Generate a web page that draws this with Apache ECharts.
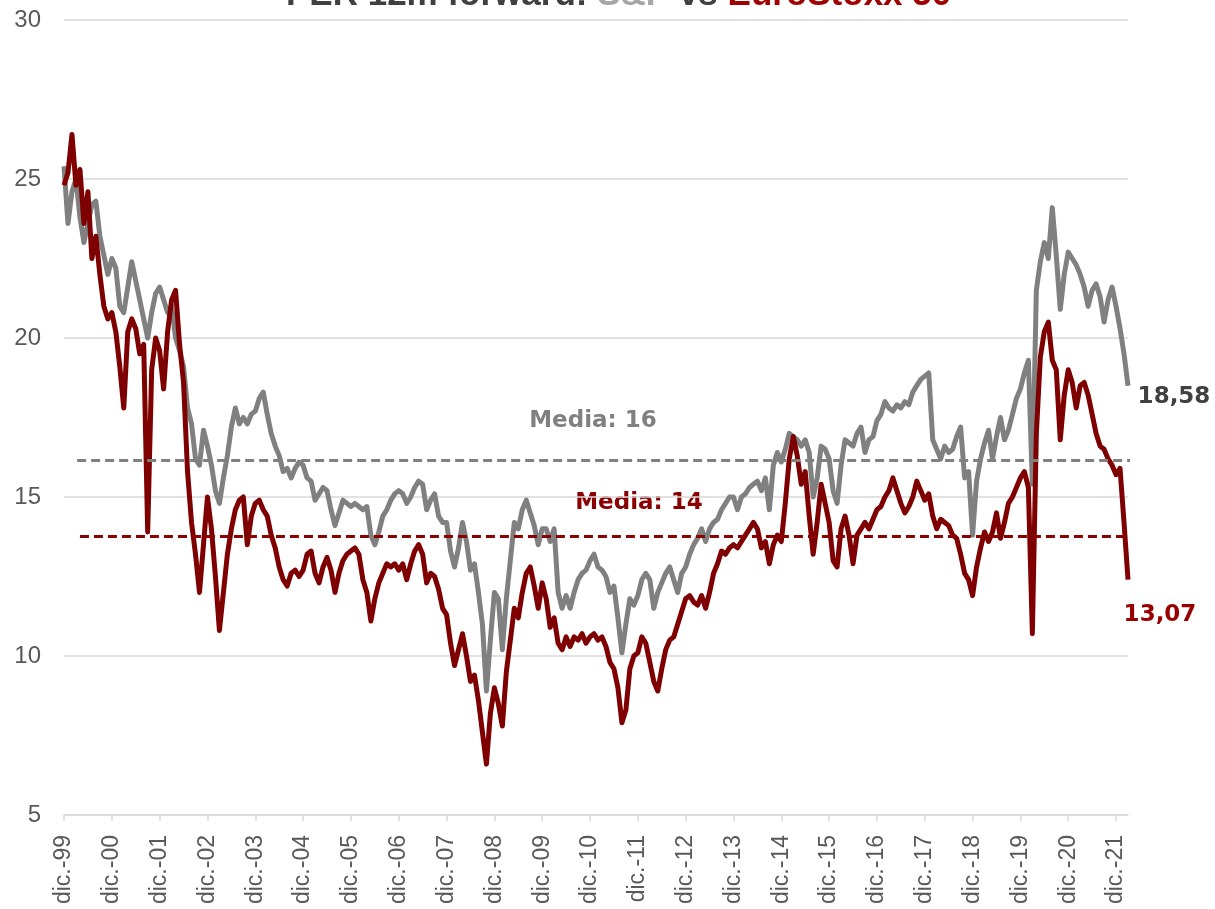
<!DOCTYPE html>
<html>
<head>
<meta charset="utf-8">
<script src="https://cdn.jsdelivr.net/npm/echarts@6.0.0/dist/echarts.min.js"></script>
<style>
  html, body { margin: 0; padding: 0; background: #fff; }
  #chart { width: 1215px; height: 909px; }
</style>
</head>
<body>
<div id="chart"></div>
<script>
// meses de dic.-99 a mar.-22 (uno por dato)
const monthNames = ['ene.', 'feb.', 'mar.', 'abr.', 'may.', 'jun.', 'jul.', 'ago.', 'sept.', 'oct.', 'nov.', 'dic.']
const months = []
for (let i = 0; i < 268; i++) {
  const k = 11 + i
  months.push(monthNames[k % 12] + '-' + String((1999 + Math.floor(k / 12)) % 100).padStart(2, '0'))
}

// PER 12m forward S&P 500 (mensual)
const spx = [
  25.4,
  23.6, 24.6, 25.0, 23.8, 23.0, 23.6, 24.2, 24.3, 23.2, 22.6, 22.0, 22.5,
  22.2, 21.0, 20.8, 21.6, 22.4, 21.8, 21.2, 20.6, 20.0, 20.8, 21.4, 21.6,
  21.2, 20.8, 21.0, 20.0, 19.6, 19.1, 17.8, 17.3, 16.2, 16.0, 17.1, 16.6,
  16.0, 15.2, 14.8, 15.6, 16.3, 17.2, 17.8, 17.3, 17.5, 17.3, 17.6, 17.7,
  18.1, 18.3, 17.6, 17.0, 16.6, 16.3, 15.8, 15.9, 15.6, 15.9, 16.1, 16.0,
  15.6, 15.5, 14.9, 15.1, 15.3, 15.2, 14.6, 14.1, 14.5, 14.9, 14.8, 14.7,
  14.8, 14.7, 14.6, 14.7, 13.8, 13.5, 13.9, 14.4, 14.6, 14.9, 15.1, 15.2,
  15.1, 14.8, 15.0, 15.3, 15.5, 15.4, 14.6, 14.9, 15.1, 14.4, 14.2, 14.2,
  13.3, 12.8, 13.4, 14.2, 13.6, 12.7, 12.9, 12.0, 11.0, 8.9, 10.5, 12.0,
  11.8, 10.2, 11.8, 13.0, 14.2, 14.0, 14.6, 14.9, 14.5, 14.1, 13.5, 14.0,
  14.0, 13.6, 14.0, 12.0, 11.5, 11.9, 11.5, 12.0, 12.4, 12.6, 12.7, 13.0,
  13.2, 12.8, 12.7, 12.5, 12.0, 12.2, 11.2, 10.1, 11.0, 11.8, 11.6, 11.9,
  12.4, 12.6, 12.4, 11.5, 12.0, 12.3, 12.6, 12.8, 12.4, 12.0, 12.6, 12.8,
  13.2, 13.5, 13.7, 14.0, 13.6, 14.0, 14.2, 14.3, 14.6, 14.8, 15.0, 15.0,
  14.6, 15.0, 15.1, 15.3, 15.4, 15.5, 15.2, 15.6, 14.6, 16.0, 16.4, 16.1,
  16.5, 17.0, 16.9, 16.8, 16.6, 16.8, 16.4, 15.0, 15.6, 16.6, 16.5, 16.2,
  15.2, 14.8, 16.0, 16.8, 16.7, 16.6, 17.0, 17.2, 16.4, 16.8, 16.9, 17.4,
  17.6, 18.0, 17.8, 17.7, 17.9, 17.8, 18.0, 17.9, 18.3, 18.5, 18.7, 18.8,
  18.9, 16.8, 16.5, 16.2, 16.6, 16.4, 16.5, 16.9, 17.2, 15.6, 15.8, 13.8,
  15.5, 16.2, 16.7, 17.1, 16.2, 16.9, 17.5, 16.8, 17.1, 17.6, 18.1, 18.4,
  18.9, 19.3, 15.4, 21.5, 22.4, 23.0, 22.5, 24.1, 22.6, 20.9, 22.0, 22.7,
  22.5, 22.3, 22.0, 21.6, 21.0, 21.5, 21.7, 21.3, 20.5, 21.2, 21.6, 21.0,
  20.3, 19.5, 18.5
]

// PER 12m forward EuroStoxx 50
const sx5e = [
  24.8,
  25.2, 26.4, 24.8, 25.3, 23.6, 24.6, 22.5, 23.2, 22.0, 21.0, 20.6, 20.8,
  20.2, 19.1, 17.8, 20.2, 20.6, 20.3, 19.5, 19.8, 13.9, 19.0, 20.0, 19.6,
  18.4, 20.2, 21.2, 21.5, 19.8, 18.6, 15.8, 14.2, 13.2, 12.0, 13.5, 15.0,
  14.0, 12.5, 10.8, 12.0, 13.2, 14.0, 14.6, 14.9, 15.0, 13.5, 14.4, 14.8,
  14.9, 14.6, 14.4, 13.8, 13.4, 12.8, 12.4, 12.2, 12.6, 12.7, 12.5, 12.7,
  13.2, 13.3, 12.6, 12.3, 12.8, 13.1, 12.7, 12.0, 12.6, 13.0, 13.2, 13.3,
  13.4, 13.2, 12.4, 12.0, 11.1, 11.8, 12.3, 12.6, 12.9, 12.8, 12.9, 12.7,
  12.9, 12.4, 12.9, 13.3, 13.5, 13.2, 12.3, 12.6, 12.5, 12.1, 11.5, 11.3,
  10.4, 9.7, 10.2, 10.7, 10.0, 9.2, 9.4, 8.6, 7.6, 6.6, 8.2, 9.0,
  8.5, 7.8, 9.5, 10.5, 11.5, 11.2, 12.0, 12.6, 12.8, 12.2, 11.5, 12.3,
  11.8, 10.9, 11.2, 10.4, 10.2, 10.6, 10.3, 10.6, 10.5, 10.7, 10.4, 10.6,
  10.7, 10.5, 10.6, 10.3, 9.8, 9.6, 9.0, 7.9, 8.3, 9.6, 10.0, 10.1,
  10.6, 10.4, 9.8, 9.2, 8.9, 9.6, 10.2, 10.5, 10.6, 11.0, 11.4, 11.8,
  11.9, 11.7, 11.6, 11.9, 11.5, 12.0, 12.6, 12.9, 13.3, 13.2, 13.4, 13.5,
  13.4, 13.6, 13.8, 14.0, 14.2, 14.0, 13.4, 13.6, 12.9, 13.5, 13.8, 13.6,
  14.8, 16.2, 16.9, 16.3, 15.4, 15.8, 14.4, 13.2, 14.2, 15.4, 14.8, 14.2,
  13.0, 12.8, 14.0, 14.4, 13.8, 12.9, 13.8, 14.0, 14.2, 14.0, 14.3, 14.6,
  14.7, 15.0, 15.2, 15.6, 15.2, 14.8, 14.5, 14.7, 15.0, 15.5, 15.2, 14.9,
  15.1, 14.4, 14.0, 14.3, 14.2, 14.1, 13.8, 13.7, 13.2, 12.6, 12.4, 11.9,
  12.8, 13.4, 13.9, 13.6, 13.9, 14.5, 13.7, 14.2, 14.8, 15.0, 15.3, 15.6,
  15.8, 15.3, 10.7, 17.0, 19.4, 20.2, 20.5, 19.3, 19.0, 16.8, 18.2, 19.0,
  18.6, 17.8, 18.5, 18.6, 18.2, 17.6, 17.0, 16.6, 16.5, 16.2, 16.0, 15.7,
  15.9, 14.2, 12.4
]

// medias y últimos valores
const meanSpx = 16.15
const meanSx5e = 13.76
const meanFrom = [3.3, 4.0]   // posición (en meses) donde empiezan las líneas de media
const meanTo = 275.6          // y donde terminan, pasado el final del eje
const lastSpx = '18,58'
const lastSx5e = '13,07'

const grey = '#808080'
const red = '#7F0000'
const labelFont = '"Liberation Sans", Arial, sans-serif'
const boldFont = '"DejaVu Sans", Verdana, sans-serif'

const chart = echarts.init(document.getElementById('chart'))

const option = {
  animation: false,
  backgroundColor: '#fff',
  title: {
    text: '{a|PER 12m forward: }{b|S&P}{a| vs }{c|EuroStoxx 50}',
    left: 286,
    top: -22,
    padding: 0,
    textStyle: {
      fontSize: 35,
      fontWeight: 'bold',
      fontFamily: labelFont,
      rich: {
        a: { fontSize: 35, fontWeight: 'bold', fontFamily: labelFont, color: '#404040' },
        b: { fontSize: 35, fontWeight: 'bold', fontFamily: labelFont, color: '#A6A6A6' },
        c: { fontSize: 35, fontWeight: 'bold', fontFamily: labelFont, color: '#A00000' }
      }
    }
  },
  grid: { left: 64, right: 87, top: 20, bottom: 94 },
  xAxis: [
    {
      type: 'category',
      data: months,
      boundaryGap: false,
      axisLine: { lineStyle: { color: '#D9D9D9', width: 1.5 } },
      axisTick: {
        show: true,
        interval: (i) => i % 12 === 0,
        length: 6,
        lineStyle: { color: '#D9D9D9', width: 1.5 }
      },
      axisLabel: {
        interval: (i) => i % 12 === 0,
        rotate: 90,
        margin: 20,
        color: '#595959',
        fontSize: 23,
        fontFamily: labelFont
      },
      splitLine: { show: false }
    },
    {
      // eje auxiliar para las líneas de media
      type: 'value',
      min: 0,
      max: months.length - 1,
      show: false
    }
  ],
  yAxis: {
    type: 'value',
    min: 5,
    max: 30,
    interval: 5,
    axisLine: { show: false },
    axisTick: { show: false },
    axisLabel: { color: '#595959', fontSize: 24, fontFamily: labelFont, margin: 23 },
    splitLine: { lineStyle: { color: '#D9D9D9', width: 1.5 } }
  },
  series: [
    {
      name: 'S&P',
      type: 'line',
      data: spx,
      showSymbol: false,
      lineStyle: { color: grey, width: 5, join: 'round' },
      itemStyle: { color: grey },
      z: 2
    },
    {
      name: 'EuroStoxx 50',
      type: 'line',
      data: sx5e,
      showSymbol: false,
      lineStyle: { color: red, width: 5, join: 'round' },
      itemStyle: { color: red },
      z: 3
    },
    {
      name: 'Media S&P',
      type: 'line',
      xAxisIndex: 1,
      data: [[meanFrom[0], meanSpx], [meanTo, meanSpx]],
      showSymbol: false,
      clip: false,
      silent: true,
      lineStyle: { color: grey, width: 3, type: [9, 5] },
      z: 4
    },
    {
      name: 'Media EuroStoxx',
      type: 'line',
      xAxisIndex: 1,
      data: [[meanFrom[1], meanSx5e], [meanTo, meanSx5e]],
      showSymbol: false,
      clip: false,
      silent: true,
      lineStyle: { color: '#8B0000', width: 3, type: [9, 5] },
      z: 4
    }
  ],
  graphic: [
    {
      type: 'text', x: 593, y: 421,
      style: { text: 'Media: ' + Math.round(meanSpx), fill: grey, font: 'bold 23px ' + boldFont, align: 'center', verticalAlign: 'middle' }
    },
    {
      type: 'text', x: 639, y: 503,
      style: { text: 'Media: ' + Math.round(meanSx5e), fill: '#8B0000', font: 'bold 23px ' + boldFont, align: 'center', verticalAlign: 'middle' }
    },
    {
      type: 'text', x: 1174, y: 397,
      style: { text: lastSpx, fill: '#404040', font: 'bold 23px ' + boldFont, align: 'center', verticalAlign: 'middle' }
    },
    {
      type: 'text', x: 1160, y: 615,
      style: { text: lastSx5e, fill: '#9B0000', font: 'bold 23px ' + boldFont, align: 'center', verticalAlign: 'middle' }
    }
  ]
}

chart.setOption(option)
</script>
</body>
</html>
